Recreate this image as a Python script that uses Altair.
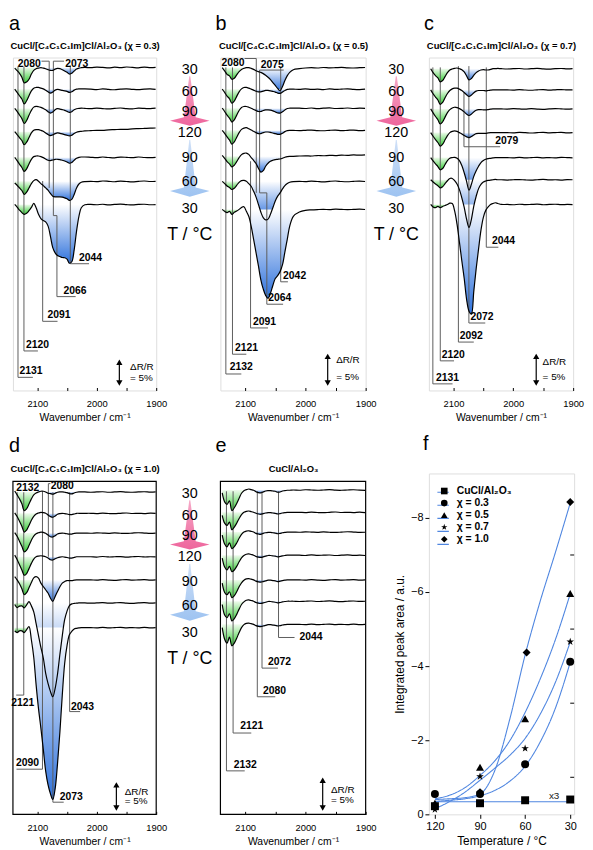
import altair as alt
import pandas as pd

FONT = "Liberation Sans"
H_IR = 337
H_F = 345

# ---------------- IR spectra: common wavenumber grid (cm-1) ----------------
WN = [2138, 2134, 2130, 2126, 2122, 2118, 2114, 2110, 2106, 2102, 2098, 2094, 2090, 2086,
      2082, 2078, 2074, 2070, 2066, 2062, 2058, 2054, 2050, 2046, 2042, 2038, 2034, 2030,
      2026, 2020, 2010, 2000, 1990, 1980, 1970, 1960, 1950, 1940, 1930, 1920, 1910, 1901]

# stacking offsets (a.u., downward) and signal dips (positive = dip) per trace, top to bottom
A_BASE = [10, 32, 51.5, 75, 101, 125.3, 148.7]
A_DEV = [
    [0.7, 3.3, 6, 10, 15.7, 14.7, 12, 6.7, 3, 1.3, 0.7, 0.3, 0.7, 1.3, 2.3, 3, 3, 1.7, 1, 1.3, 2.3, 3.7, 5, 6.7, 6, 3.7, 1.7, 0.7, 0.3, 0, 0.3, -0.3, 0, 0.5, -0.2, 0.3, -0.4, 0, 0.4, -0.3, 0.2, 0],
    [0, 3.3, 6.7, 10, 15, 11.7, 6.7, 1.7, -1, -1.7, -1.7, -1, -0.3, 1, 2.7, 4, 3, 1, 0.3, 0.7, 1.3, 1.7, 2.3, 3.3, 2.7, 1, 0, -0.3, -0.3, -0.3, 0, 0.4, -0.2, 0.3, 0.6, 0, -0.3, 0.2, 0.5, 0, -0.2, 0.3],
    [0, 3, 6.7, 10.3, 15.3, 12.3, 7, 2, -1.3, -2, -1.7, -1, 0, 1.3, 3.3, 4.7, 3.7, 1.3, 0.3, 0.7, 1.3, 2, 3, 4, 3.3, 1.3, 0.3, 0, -0.3, 0, 0.3, -0.2, 0.2, 0.5, 0, -0.4, 0.2, 0.4, -0.2, 0, 0.3, -0.2],
    [0, 3, 6, 9, 13.3, 10.7, 6, 1.3, -1.3, -2, -2, -1.3, -0.3, 1.3, 3, 4, 3.3, 2, 1.3, 1.7, 2.3, 3, 3.7, 4.3, 3.7, 2, 0.7, 0, -0.3, -0.7, -1, -1.3, -1.2, -1.8, -2, -2.3, -2.2, -2.8, -3, -3.2, -3.5, -3.7],
    [0, 3.3, 7, 10.3, 14.3, 11.7, 6.7, 2, -0.7, -1.3, -1.3, -0.7, 0.3, 1.7, 3, 3.3, 2.7, 2, 2, 2.3, 3, 3.7, 4.7, 6, 5.3, 3, 1, 0, -0.3, -0.3, 0, 0.3, -0.3, 0.2, 0.5, -0.2, 0, 0.4, -0.3, 0.2, 0.4, 0],
    [1.7, 4, 6.7, 9.3, 13.3, 11, 6.7, 2.3, -0.7, -1.7, 0, 2.3, 4.3, 6.7, 9, 12.3, 15, 15.7, 15.7, 15.7, 16, 16.7, 17.7, 19.3, 18.3, 13.3, 6.7, 2.7, 1, 0.3, 0, 0.3, -0.3, 0, 0.4, -0.2, 0.2, 0.5, 0, -0.3, 0.2, 0],
    [0, 2.7, 5.7, 8.3, 10, 9, 6.3, 3, -1, 3.3, 10, 14.3, 16.3, 17.7, 21.7, 32, 43.7, 49, 51.7, 52.7, 53.7, 54, 55.3, 59.5, 58, 46, 27, 12, 3.3, 0.3, 0, 0.3, -0.2, 0.4, 0, -0.3, 0.2, 0.5, 0, -0.2, 0.3, 0.1],
]
B_BASE = [10.3, 32, 51.3, 73.7, 100, 125.3, 153.7]
B_DEV = [
    [0, 3.3, 6.7, 8.3, 11.7, 10.7, 7.3, 4, 1.7, 0.7, 0, 0, 0.7, 1.7, 3, 4, 4.7, 6, 7.7, 9.7, 12, 15, 18, 21, 23.3, 19, 13, 8, 4.7, 2, 1, 0.3, 0, 0.3, -0.2, 0.2, 0, -0.3, 0.2, 0.3, 0, -0.2],
    [0, 3.3, 7, 9.7, 14.3, 12, 7.3, 2.7, -0.3, -1.7, -1.7, -1, 0, 1, 2, 2.7, 2.7, 2, 1.3, 1.3, 1.7, 2.3, 3, 4, 4.3, 3, 1.3, 0.3, 0, 0, 0.2, -0.3, 0.3, 0, 0.4, -0.2, 0.3, 0, -0.3, 0.2, 0.4, 0],
    [0, 3.3, 7, 10, 14, 11.7, 7, 2.3, -0.7, -1.7, -1.7, -1, 0, 1.3, 2.3, 3.3, 3.3, 2.3, 1.7, 1.7, 2, 2.7, 3.7, 4.7, 5, 3.7, 1.7, 0.3, 0, 0, 0, 0.3, -0.2, 0.4, 0, -0.3, 0.3, 0.2, -0.2, 0.3, 0, 0.2],
    [0, 3, 6.7, 9.7, 14, 11.7, 7, 2.3, -1, -2.3, -2.7, -1.7, -0.3, 1, 2.3, 3.3, 3.3, 2.3, 1.7, 1.7, 2, 2.7, 3.3, 4, 4, 3, 1.3, 0.3, 0, 0, 0.3, 0, -0.3, 0.2, 0.4, 0, -0.2, 0.3, 0, -0.3, 0.2, 0],
    [-1, 2, 5.3, 7.7, 10.7, 9, 5.3, 1.3, -1.7, -3, -3.3, -2, 1.3, 4, 7.3, 12, 16, 14.5, 10, 7, 5, 4, 3.3, 3, 2.7, 2, 1, 0.3, 0, 0, -0.3, -0.5, -0.3, -0.8, -0.6, -1, -0.8, -1.2, -1, -1.4, -1.2, -1.5],
    [0, 2.3, 4.7, 6.3, 8.3, 7, 4, 1, -0.7, -1, 0, 2.3, 5, 10, 15.7, 23.3, 31, 36.7, 39, 38.3, 33.3, 26.7, 20, 15, 11.7, 7.7, 4.3, 2.3, 1, 0.3, 0, 0.3, -0.2, 0.2, 0.5, 0, -0.3, 0.2, 0.4, 0, -0.2, 0.2],
    [0, 2, 3.3, 2, 5, 3, 1.7, 0, -2, -2.7, 2, 7, 17, 30, 43.5, 57, 71, 80.5, 87, 90, 85, 77, 70, 67, 63, 56, 43, 30, 17, 7, 2.7, 1, 0.5, 0.2, 0, 0.3, -0.2, 0, 0.3, 0, -0.2, 0.1],
]
C_BASE = [11.3, 32.7, 52, 76, 101.3, 123.7, 148.7]
C_DEV = [
    [0, 4, 7, 9.3, 13.3, 12, 8, 4, 1.3, 0.3, -0.3, -0.7, 0, 1, 3.3, 7.3, 11.3, 10, 6.7, 4, 2.3, 1.3, 1, 1.3, 1.3, 0.7, 0, 0, -0.3, 0, 0.3, 0, -0.2, 0.3, 0, -0.3, 0.2, 0.4, 0, -0.2, 0.2, 0],
    [0, 4, 7.3, 10.3, 14.7, 12.7, 8, 3.7, 0.7, -1, -1.7, -1.7, -0.7, 0.7, 2.7, 5, 6.7, 5.3, 3, 1.3, 0.7, 0.7, 0.7, 1, 0.7, 0.3, 0, 0, 0, 0, 0, 0.3, -0.3, 0.2, 0.4, 0, -0.2, 0.3, 0, -0.3, 0.1, 0],
    [0, 4, 7.7, 11, 15.3, 13, 8.3, 3.7, 0.7, -1, -1.7, -1.3, -0.3, 1, 3, 5.3, 6.7, 5.3, 3, 1.3, 0.7, 0.7, 1, 1, 0.7, 0.3, 0, 0, 0, 0, 0.2, -0.2, 0, 0.3, -0.2, 0.2, 0.4, 0, -0.3, 0, 0.3, 0],
    [0, 3.7, 7, 10, 13.7, 11.7, 7.3, 3, 0, -1.3, -1.7, -1.3, 0, 1.3, 3, 4.3, 5, 4, 2.3, 1, 0.7, 0.7, 0.7, 0.7, 0.3, 0, 0, 0, 0, 0, 0, 0.3, -0.2, 0, 0.4, 0, -0.3, 0.2, 0, -0.2, 0.3, 0],
    [0, 3.3, 6.3, 9, 12.3, 11, 7, 3, 0.7, 0, -0.3, 0.7, 3, 8, 15.3, 24, 33, 27, 19, 13.3, 8.7, 5, 3, 1.7, 1, 0.7, 0.3, 0, 0, 0, 0, 0.3, -0.2, 0.3, 0, -0.3, 0.2, 0, 0.3, -0.2, 0, 0.2],
    [0, 2.3, 4.3, 6, 8.3, 7, 4, 1, -1.3, -1.3, 1, 4.3, 10, 18.3, 28, 40, 48.3, 40, 26.7, 16.7, 9, 4.7, 2.3, 1.3, 0.7, 0.3, 0, -0.3, 0, 0, 0.3, 0, -0.2, 0.2, 0.4, 0, -0.3, 0.2, 0, 0.3, -0.2, 0],
    [0, 2.5, 3.3, 2, 3.3, 2, 1, 0, -1.3, -1, 6.5, 20, 38, 57, 75, 96, 108, 111, 88, 65, 45, 26, 13, 6, 2.5, 0, -1, -1.7, -1, 0, 0, 0.3, -0.2, 0.2, 0, -0.3, 0.3, 0, -0.2, 0.2, 0, 0.1],
]
D_BASE = [10.7, 32.3, 52.3, 76.3, 99.7, 123, 148]
D_DEV = [
    [-1, 3, 7, 12, 19, 17, 12.3, 7, 3, 1, 0, -0.7, -0.7, 0, 1.3, 1.7, 2.3, 1.3, 0.3, 0, 0, 0.3, 0.7, 1.7, 2, 1, 0.3, 0, 0, 0, 0.3, 0, -0.2, 0.3, 0, -0.3, 0.2, 0.3, 0, -0.2, 0.2, 0],
    [-0.5, 3.3, 8, 13, 19, 17, 12.3, 7, 3, 0.7, -0.3, -1, -0.7, 0, 1.7, 3.3, 4, 2.7, 1, 0.3, 0, 0.3, 0.7, 1.3, 1.3, 0.7, 0, 0, 0, 0, 0, 0.3, -0.2, 0.2, 0.4, 0, -0.3, 0.2, 0, 0.3, -0.2, 0],
    [-0.5, 3.3, 8.3, 13.3, 19, 17.3, 12.7, 7.3, 3, 0.7, -0.3, -1, -0.7, 0.3, 2, 3.7, 4, 2.7, 1, 0.3, 0, 0.3, 0.7, 1, 1, 0.3, 0, 0, 0, 0, 0.2, -0.2, 0, 0.3, -0.2, 0.2, 0.4, 0, -0.3, 0, 0.3, 0],
    [-1.7, 2.7, 8, 13.3, 18.7, 17, 12, 6.7, 2.3, 0, -0.7, -1, -0.7, 0, 1.3, 3, 3.3, 2, 1, 0.3, 0, 0.3, 0.7, 1.3, 1.3, 0.7, 0, 0, 0, 0, 0, 0.3, -0.3, 0.2, 0, -0.2, 0.3, 0, -0.3, 0.2, 0, 0.2],
    [-3.3, 0, 4, 9, 15, 13, 8, 2.7, -2, -3.3, -1.7, 3.3, 6.7, 10, 13.3, 18.3, 21.7, 16.7, 11.7, 7, 3.3, 1.7, 0.7, 0.7, 0.7, 0.3, 0, 0, 0, 0, 0, 0.3, -0.2, 0.2, 0.4, 0, -0.3, 0.3, 0, -0.2, 0.2, 0],
    [1.7, 4.7, 3.3, 3, 5, 2, -1.3, 3, 9, 21, 33, 45, 55.5, 71, 81.5, 89.5, 95, 86.5, 72, 52, 33.3, 17, 8.3, 2.7, 1, 0.5, 0.3, 0, 0, 0, 0.3, 0, -0.2, 0.3, 0, -0.3, 0.2, 0.4, 0, -0.2, 0.2, 0],
    [3.3, 5, 3.3, 3.3, 5, 2, -1, 12.3, 30, 58, 82, 101.7, 122.7, 145, 159, 168, 174, 163, 137.7, 105.7, 68.3, 36.3, 18.3, 7.3, 3.8, 1.3, 0.7, 0.3, 0, 0, 0, 0.3, -0.2, 0.3, 0, -0.3, 0.2, 0, 0.3, -0.2, 0.2, 0],
]
E_BASE = [8.7, 31.3, 51.3, 74.7, 99.7, 121.3, 144.7]
E_DEV = [
    [3, 12, 14.5, 11, 21, 18, 13.7, 8.3, 3.3, 0.7, -0.3, -1, -0.3, 0.3, 1.7, 2.7, 3, 2, 1, 0.7, 0.7, 1, 1.3, 2.3, 2, 1, 0.7, 0.3, 0.3, 0, 0.3, -0.2, 0, 0.3, 0, -0.3, 0.2, 0.3, 0, -0.2, 0.2, 0.4],
    [3, 11, 13.3, 10, 17.7, 15, 11, 6.3, 2.3, 0, -1, -1.3, -0.7, 0, 1, 1.7, 2, 1.3, 0.7, 0.3, 0.3, 0.7, 1, 1.7, 1.3, 0.7, 0.3, 0, 0, 0, 0, 0.3, -0.2, 0.2, 0.4, 0, -0.3, 0.2, 0, 0.3, -0.2, 0.3],
    [3, 12, 15, 11, 16.7, 14.7, 11, 6.3, 2.3, 0, -1, -1.3, -0.7, 0, 1.3, 2, 2.3, 1.3, 0.7, 0.3, 0.3, 0.7, 1, 1.7, 1.3, 0.7, 0.3, 0, 0, 0, 0.2, -0.2, 0, 0.3, -0.2, 0.2, 0.4, 0, -0.3, 0, 0.3, 0.2],
    [3, 12, 15, 11.3, 16.7, 15, 11.3, 6.7, 2.7, 0.3, -1, -1.3, -0.7, 0, 1.3, 2, 2.3, 1.7, 1, 0.3, 0.3, 0.7, 1, 1.7, 1.3, 0.7, 0.3, 0, 0, 0, 0, 0.3, -0.3, 0.2, 0, -0.2, 0.3, 0, -0.3, 0.2, 0, 0.3],
    [3.3, 12.7, 15, 12, 18, 16, 12, 7, 3, 0.3, -1, -1.3, -0.7, 0, 1.3, 2, 2.3, 1.7, 1, 0.3, 0.3, 0.7, 1, 1.7, 1.3, 0.7, 0.3, 0, 0, 0, 0, 0.3, -0.2, 0.2, 0.4, 0, -0.3, 0.3, 0, -0.2, 0.2, 0],
    [3.3, 14, 16.7, 12.7, 20, 17.7, 13.3, 8, 3.3, 0.7, -1, -1.3, -0.7, 0, 1.3, 2, 2.3, 1.7, 1, 0.3, 0.3, 0.7, 1, 1.7, 1.3, 0.7, 0.3, 0, 0, 0, 0.3, 0, -0.2, 0.3, 0, -0.3, 0.2, 0.4, 0, -0.2, 0.2, 0],
    [3.3, 15, 19, 13, 21.7, 19, 14, 8.3, 3.3, 0.3, -1, -1.3, -0.7, 0, 1.3, 2, 2.3, 1.7, 1, 0.3, 0.3, 0.7, 1, 1.7, 1.3, 0.7, 0.3, 0, 0, 0, 0, 0.3, -0.2, 0.3, 0, -0.3, 0.2, 0, 0.3, -0.2, 0.2, 0],
]

# peak-label leader lines: (wavenumber, depth below frame top) points
A_LINES = [
    [(2132.5, 9), (2132.5, 323.7), (2107.5, 323.7)],
    [(2122.5, 9), (2122.5, 297), (2099, 297)],
    [(2091, 125), (2091, 267), (2066, 267)],
    [(2055, 3.7), (2073, 3.7), (2073, 160), (2067, 160), (2067, 242), (2035.5, 242)],
    [(2093, 3.7), (2080, 3.7), (2080, 132)],
    [(2044.5, 8), (2044.5, 208.7), (2013, 208.7)],
]
A_TEXT = [("2131", 2130, 320.5, "left", "alphabetic"), ("2120", 2119, 293.5, "left", "alphabetic"),
          ("2091", 2083, 263.7, "left", "alphabetic"), ("2066", 2056, 239, "left", "alphabetic"),
          ("2044", 2030, 206, "left", "alphabetic"), ("2080", 2094, 6.5, "right", "middle"),
          ("2073", 2053, 6.5, "left", "middle")]
B_LINES = [
    [(2132, 10), (2132, 320.3), (2106.3, 320.3)],
    [(2121, 10), (2121, 300.3), (2098, 300.3)],
    [(2091, 105), (2091, 273.7), (2062, 273.7)],
    [(2101, 1), (2081.5, 1), (2081.5, 137)],
    [(2036, 12.7), (2076, 12.7), (2076, 137), (2064, 137), (2064, 249.7), (2037, 249.7)],
    [(2041, 10), (2041, 227), (2029, 227)],
]
B_TEXT = [("2132", 2125.5, 316.5, "left", "alphabetic"), ("2121", 2117, 297, "left", "alphabetic"),
          ("2091", 2087, 270.5, "left", "alphabetic"), ("2064", 2061.5, 246.5, "left", "alphabetic"),
          ("2042", 2037, 224, "left", "alphabetic"), ("2080", 2101, 5.5, "right", "middle"),
          ("2075", 2074, 10.5, "left", "alphabetic")]
C_LINES = [
    [(2134.4, 10), (2134.4, 330.3), (2101.5, 330.3)],
    [(2122, 10), (2122, 307), (2099, 307)],
    [(2091.7, 8.7), (2091.7, 288), (2066, 288)],
    [(2082.4, 35), (2082.4, 90.3), (2022, 90.3)],
    [(2074.2, 8.7), (2074.2, 268.7), (2046.8, 268.7)],
    [(2045.1, 10), (2045.1, 192), (2024.9, 192)],
]
C_TEXT = [("2131", 2129, 327, "left", "alphabetic"), ("2120", 2119.5, 303.7, "left", "alphabetic"),
          ("2092", 2089.5, 284.5, "left", "alphabetic"), ("2079", 2030, 88, "left", "alphabetic"),
          ("2072", 2071.4, 265.5, "left", "alphabetic"), ("2044", 2035.7, 189, "left", "alphabetic")]
D_LINES = [
    [(2133.9, 11), (2133.9, 153)],
    [(2122.8, 11), (2122.8, 216.3), (2135.5, 216.3)],
    [(2091.3, 10), (2091.3, 291.3), (2135, 291.3)],
    [(2078, 2.3), (2081.4, 2.3), (2081.4, 76.3)],
    [(2073.8, 11), (2073.8, 324.7), (2055.6, 324.7)],
    [(2045.6, 11), (2045.6, 233), (2028, 233)],
]
D_TEXT = [("2132", 2135.5, 6.3, "left", "middle"), ("2121", 2143.8, 227, "left", "alphabetic"),
          ("2090", 2097, 288.5, "right", "alphabetic"), ("2080", 2077.5, 5, "left", "middle"),
          ("2073", 2062.2, 322.5, "left", "alphabetic"), ("2043", 2043.3, 231, "left", "alphabetic")]
E_LINES = [
    [(2131, 10), (2131, 293), (2100.7, 293)],
    [(2120, 10), (2120, 254.7), (2089.8, 254.7)],
    [(2079.8, 10), (2079.8, 218), (2050, 218)],
    [(2072, 10), (2072, 189), (2045.6, 189)],
    [(2044.6, 10), (2044.6, 158), (2018, 158)],
]
E_TEXT = [("2132", 2118.9, 290, "left", "alphabetic"), ("2121", 2108, 251, "left", "alphabetic"),
          ("2080", 2070.4, 215, "left", "alphabetic"), ("2072", 2062, 186, "left", "alphabetic"),
          ("2044", 2009.8, 157.5, "left", "middle")]

# scale bars (ΔR/R = 5 %)
A_BAR = dict(wn=1962, top=306, bot=332, twn=1944, t1=316, t2=327)
B_BAR = dict(wn=1963, top=300, bot=332, twn=1949, t1=309, t2=326)
C_BAR = dict(wn=1961.7, top=300, bot=332, twn=1951, t1=311, t2=326)
D_BAR = dict(wn=1967, top=304.7, bot=333, twn=1953, t1=317, t2=327)
E_BAR = dict(wn=1971.3, top=300, bot=333, twn=1957.5, t1=315, t2=326)

# temperature legends
LEG_LAB = ["30", "60", "90", "120", "90", "60", "30"]
LEG_Y = [12.5, 35, 55, 76.5, 102, 126.5, 153.3]
LEG_T_Y = 179.5
PINK_ARROW = [(19, 0.5), (60.5, 6), (64, 20), (69, 0)]
BLUE_ARROW = [(83.5, 0.5), (131.5, 6), (135, 20), (141, 0)]

# panel f data
F_SER = ["CuCl/Al₂O₃", "χ = 0.3", "χ = 0.5", "χ = 0.7", "χ = 1.0"]
F_T = {
    "CuCl/Al₂O₃": [120, 90, 60, 30],
    "χ = 0.3": [120, 90, 60, 30],
    "χ = 0.5": [120, 90, 60, 30],
    "χ = 0.7": [120, 90, 60, 30],
    "χ = 1.0": [120, 90, 59, 30],
}
F_V = {
    "CuCl/Al₂O₃": [-0.22, -0.3, -0.38, -0.4],
    "χ = 0.3": [-0.55, -0.55, -1.35, -4.12],
    "χ = 0.5": [-0.3, -1.27, -2.58, -5.96],
    "χ = 0.7": [-0.13, -1.02, -1.78, -4.66],
    "χ = 1.0": [-0.22, -0.6, -4.37, -8.43],
}
FIT_T = {
    "CuCl/Al₂O₃": [120, 30],
    "χ = 0.3": [120, 110, 100, 90, 80, 70, 60, 50, 40, 30],
    "χ = 0.5": [120, 110, 100, 90, 80, 70, 60, 50, 40, 30],
    "χ = 0.7": [120, 110, 100, 90, 80, 70, 60, 50, 40, 30],
    "χ = 1.0": [120, 110, 100, 90, 80, 70, 60, 50, 40, 30],
}
FIT_V = {
    "CuCl/Al₂O₃": [-0.34, -0.34],
    "χ = 0.3": [-0.35, -0.38, -0.42, -0.5, -0.65, -0.9, -1.3, -1.95, -2.85, -4.1],
    "χ = 0.5": [-0.42, -0.52, -0.72, -1.05, -1.45, -2.0, -2.75, -3.65, -4.7, -5.95],
    "χ = 0.7": [-0.15, -0.35, -0.6, -0.92, -1.25, -1.6, -2.05, -2.7, -3.55, -4.65],
    "χ = 1.0": [-0.4, -0.42, -0.45, -0.55, -1.2, -2.6, -4.3, -5.75, -7.05, -8.4],
}
F_RTICKS = [-1, -3, -5, -7]
STAR = ("M0,-1L0.2245,-0.309L0.951,-0.309L0.3633,0.118L0.5878,0.809L0,0.382L-0.5878,0.809"
        "L-0.3633,0.118L-0.951,-0.309L-0.2245,-0.309Z")
F_SHAPES = ["square", "circle", "triangle-up", STAR, "diamond"]
BLUE_LINE = "#4f86e0"

# layout (pixels)
COLS = [145, 45, 147, 44, 147]
GAP = 10
ROW_GAP = 84
F_X0 = sum(COLS[:4]) + 4 * GAP
F_Y0 = H_IR + ROW_GAP


def grad(c0, c1):
    return alt.Gradient(gradient="linear",
                        stops=[alt.GradientStop(color=c0, offset=0), alt.GradientStop(color=c1, offset=1)],
                        x1=0, x2=0, y1=0, y2=1)


GREEN = grad("#f0fbee", "#33cc33")
BLUEG = grad("#ffffff", "#2f72dc")


def ir_panel(letter, title, width, base, devs, lines, texts, bar, blue_end=2020,
             letter_offset=-9.5, letter_dx=-4, pad_top=0):
    xs = alt.Scale(domain=[2141, 1900], nice=False, zero=False)
    ys = alt.Scale(domain=[-H_IR, pad_top], nice=False, zero=False)
    tr, fg, fb = [], [], []
    cand = [i for i, w in enumerate(WN) if 2094 <= w <= 2118]
    for t, (b, dev) in enumerate(zip(base, devs)):
        assert len(dev) == len(WN), (letter, t, len(dev))
        split = min(cand, key=lambda i: dev[i])
        for i, (w, d) in enumerate(zip(WN, dev)):
            tr.append({"trace": t, "wn": w, "y": -(b + d)})
            rec = {"trace": t, "wn": w, "y": -(b + max(d, 0.0)), "y0": -b}
            if i <= split:
                fg.append(dict(rec))
            if i >= split and w >= blue_end:
                fb.append(dict(rec))
    X0 = alt.X("wn:Q", scale=xs, axis=None)
    Y0 = alt.Y("y:Q", scale=ys, axis=None)
    green = alt.Chart(pd.DataFrame(fg)).mark_area(interpolate="catmull-rom", color=GREEN).encode(
        x=X0, y=Y0, y2=alt.Y2("y0"), detail="trace:N")
    blue = alt.Chart(pd.DataFrame(fb)).mark_area(interpolate="catmull-rom", color=BLUEG).encode(
        x=X0, y=Y0, y2=alt.Y2("y0"), detail="trace:N")
    lrows = []
    for s, pts in enumerate(lines):
        for k, (w, r) in enumerate(pts):
            lrows.append({"seg": s, "ord": k, "wn": w, "y": -r})
    lead = alt.Chart(pd.DataFrame(lrows)).mark_line(color="#5c5c5c", strokeWidth=1).encode(
        x=X0, y=Y0, detail="seg:N", order="ord:Q")
    bottom_axis = alt.Axis(orient="bottom", values=[2100, 2050, 2000, 1950, 1900],
                           labelExpr="datum.value % 100 == 0 ? datum.label : ''", format="d",
                           tickSize=3, offset=-3, domain=False, grid=False, labelFlush=False,
                           labelOverlap=False, labelFont=FONT, labelFontSize=9.5, labelPadding=8,
                           labelColor="black", tickColor="black", title="Wavenumber / cm⁻¹",
                           titleFont=FONT, titleFontSize=10.5, titleFontWeight="normal",
                           titlePadding=5, titleColor="black")
    trace = alt.Chart(pd.DataFrame(tr)).mark_line(color="black", strokeWidth=1.2, interpolate="catmull-rom").encode(
        x=alt.X("wn:Q", scale=xs, axis=bottom_axis), y=Y0, detail="trace:N")
    tdf = pd.DataFrame([{"t": t, "wn": w, "y": -r, "al": al, "bl": bl} for (t, w, r, al, bl) in texts])
    tlayers = []
    for (al, bl), g in tdf.groupby(["al", "bl"]):
        tlayers.append(alt.Chart(g).mark_text(align=al, baseline=bl, font=FONT, fontSize=10.5,
                                              fontWeight="bold", color="black").encode(x=X0, y=Y0, text="t:N"))
    sdf = pd.DataFrame([{"wn": bar["wn"], "y": -(bar["top"] + 3), "y2": -(bar["bot"] - 3)}])
    shaft = alt.Chart(sdf).mark_rule(color="black", strokeWidth=1.2).encode(x=X0, y=Y0, y2=alt.Y2("y2"))
    hu = alt.Chart(pd.DataFrame([{"wn": bar["wn"], "y": -(bar["top"] + 2.5)}])).mark_point(
        shape="triangle-up", filled=True, color="black", size=40, opacity=1).encode(x=X0, y=Y0)
    hd = alt.Chart(pd.DataFrame([{"wn": bar["wn"], "y": -(bar["bot"] - 2.5)}])).mark_point(
        shape="triangle-down", filled=True, color="black", size=40, opacity=1).encode(x=X0, y=Y0)
    top_axis = alt.Axis(orient="top", title=title, labels=False, ticks=False, domain=False, grid=False,
                        titleFont=FONT, titleFontSize=9.5, titleFontWeight="bold",
                        titlePadding=9.5 - pad_top, titleBaseline="alphabetic", titleColor="black")
    bt = pd.DataFrame([{"t": "ΔR/R", "wn": bar["twn"], "y": -bar["t1"]},
                       {"t": "= 5%", "wn": bar["twn"], "y": -bar["t2"]}])
    btext = alt.Chart(bt).mark_text(align="left", baseline="alphabetic", font=FONT, fontSize=10,
                                    color="black").encode(x=alt.X("wn:Q", scale=xs, axis=top_axis), y=Y0, text="t:N")
    layers = [green, blue, lead, trace, *tlayers, shaft, hu, hd, btext]
    props = dict(width=width, height=H_IR + pad_top,
                 title=alt.TitleParams(letter, anchor="start", frame="group", dx=letter_dx, fontSize=20,
                                       fontWeight="normal", font=FONT, offset=letter_offset,
                                       baseline="alphabetic", color="black"))
    if pad_top:
        frame = alt.Chart(pd.DataFrame([{"x1": 2141, "x2": 1900, "y1": -H_IR, "y2": 0}])).mark_rect(
            fillOpacity=0, stroke="black", strokeWidth=1.2).encode(
            x=alt.X("x1:Q", scale=xs, axis=None), x2=alt.X2("x2"),
            y=alt.Y("y1:Q", scale=ys, axis=None), y2=alt.Y2("y2"))
        layers.append(frame)
        props["view"] = alt.ViewBackground(strokeWidth=0)
    return alt.layer(*layers).properties(**props)


def temp_legend(xdom, width, pad_top=0):
    xs = alt.Scale(domain=xdom, nice=False, zero=False)
    ys = alt.Scale(domain=[-H_IR, pad_top], nice=False, zero=False)

    def arrow(pts, g):
        df = pd.DataFrame([{"y": -r, "xl": -hw, "xr": hw} for r, hw in pts])
        return alt.Chart(df).mark_area(orient="horizontal", color=g).encode(
            y=alt.Y("y:Q", scale=ys, axis=None), x=alt.X("xl:Q", scale=xs, axis=None), x2=alt.X2("xr"))
    pink = arrow(PINK_ARROW, grad("#f6a9c7", "#ee659c"))
    blu = arrow(BLUE_ARROW, grad("#cfe0f7", "#9ec3f1"))
    nums = pd.DataFrame({"t": LEG_LAB, "x": [0] * len(LEG_LAB), "y": [-v for v in LEG_Y]})
    ntext = alt.Chart(nums).mark_text(fontSize=14.5, font=FONT, baseline="middle", align="center",
                                      color="black").encode(
        x=alt.X("x:Q", scale=xs, axis=None), y=alt.Y("y:Q", scale=ys, axis=None), text="t:N")
    tt = alt.Chart(pd.DataFrame({"t": ["T / °C"], "x": [0], "y": [-LEG_T_Y]})).mark_text(
        fontSize=18, font=FONT, baseline="middle", align="center", color="black").encode(
        x=alt.X("x:Q", scale=xs, axis=None), y=alt.Y("y:Q", scale=ys, axis=None), text="t:N")
    return alt.layer(pink, blu, ntext, tt).properties(width=width, height=H_IR + pad_top,
                                                      view=alt.ViewBackground(strokeWidth=0))


def spacer(w, h):
    return alt.Chart(pd.DataFrame({"v": [0]})).mark_point(opacity=0).encode(
        x=alt.X("v:Q", axis=None), y=alt.Y("v:Q", axis=None)).properties(
        width=w, height=h, view=alt.ViewBackground(strokeWidth=0))


def f_panel():
    xs = alt.Scale(domain=[124, 27.4], nice=False, zero=False)
    ys = alt.Scale(domain=[0, -9.2], nice=False, zero=False)
    prow = []
    for s in F_SER:
        for t, v in zip(F_T[s], F_V[s]):
            prow.append({"ser": s, "T": t, "v": v})
    frow = []
    for s in F_SER:
        for t, v in zip(FIT_T[s], FIT_V[s]):
            frow.append({"lser": "fit " + s, "T": t, "v": v})
    pdf = pd.DataFrame(prow)
    fdf = pd.DataFrame(frow)
    xaxis = alt.Axis(orient="bottom", values=[120, 90, 60, 30], title="Temperature / °C",
                     labelFont=FONT, labelFontSize=11, titleFont=FONT, titleFontSize=12,
                     titleFontWeight="normal", tickSize=4, labelPadding=2, titlePadding=5,
                     domain=False, grid=False, labelFlush=False, tickColor="black",
                     labelColor="black", titleColor="black")
    yaxis = alt.Axis(orient="left", values=[0, -2, -4, -6, -8], title="Integrated peak area / a.u.",
                     labelFont=FONT, labelFontSize=11, titleFont=FONT, titleFontSize=12,
                     titleFontWeight="normal", tickSize=4, labelPadding=2, titlePadding=4,
                     domain=False, grid=False, labelFlush=False, tickColor="black",
                     labelColor="black", titleColor="black")
    # every layer carries the same axis definitions so that the shared axes merge cleanly
    XT = alt.X("T:Q", scale=xs, axis=xaxis)
    YV = alt.Y("v:Q", scale=ys, axis=yaxis)
    # small inward ticks on the right frame edge
    rdf = pd.DataFrame({"v": F_RTICKS, "T": [27.4] * 4, "t2": [30.0] * 4})
    rt = alt.Chart(rdf).mark_rule(color="black", strokeWidth=1).encode(x=XT, x2=alt.X2("t2"), y=YV)
    lseries = ["fit " + s for s in F_SER]
    # legend of the fitted lines (blue line segments, drawn under the marker legend, no visible labels)
    curves = alt.Chart(fdf).mark_line(color=BLUE_LINE, strokeWidth=1.1, interpolate="monotone").encode(
        x=XT, y=YV,
        strokeDash=alt.StrokeDash("lser:N", scale=alt.Scale(domain=lseries, range=[[1, 0]] * 5),
                                  legend=alt.Legend(title=None, orient="none", legendX=F_X0 + 7.9,
                                                    legendY=F_Y0 + 12.5,
                                                    symbolType="stroke", symbolStrokeColor=BLUE_LINE,
                                                    symbolStrokeWidth=1.1, symbolSize=135,
                                                    labelExpr="' '", labelFont=FONT, labelFontSize=10.5,
                                                    rowPadding=1.2, padding=0, zindex=1)))
    points = alt.Chart(pdf).mark_point(filled=True, color="black", size=65, opacity=1).encode(
        x=XT, y=YV,
        shape=alt.Shape("ser:N", scale=alt.Scale(domain=F_SER, range=F_SHAPES),
                        legend=alt.Legend(title=None, orient="none", legendX=F_X0 + 10.3,
                                          legendY=F_Y0 + 12.5,
                                          symbolSize=45, symbolFillColor="black",
                                          symbolStrokeColor="black", symbolStrokeWidth=0,
                                          labelFont=FONT, labelFontSize=10.5, labelFontWeight="bold",
                                          labelColor="black", labelOffset=7.3, rowPadding=1.2,
                                          padding=0, zindex=2)))
    x3 = alt.Chart(pd.DataFrame({"t": ["x3"], "T": [40.7], "v": [-0.5]})).mark_text(
        fontSize=10, font=FONT, color="#222", baseline="middle", align="center").encode(
        x=XT, y=YV, text="t:N")
    return alt.layer(curves, rt, points, x3).properties(
        width=147, height=H_F,
        title=alt.TitleParams("f", anchor="start", frame="group", dx=-6, fontSize=20,
                              fontWeight="normal", font=FONT, offset=4, baseline="alphabetic",
                              color="black"))


TITLE_X = "CuCl/[C₄C₁C₁Im]Cl/Al₂O₃ (χ = {})"
PAD2 = H_F - H_IR
pa = ir_panel("a", TITLE_X.format("0.3"), COLS[0], A_BASE, A_DEV, A_LINES, A_TEXT, A_BAR)
pb = ir_panel("b", TITLE_X.format("0.5"), COLS[2], B_BASE, B_DEV, B_LINES, B_TEXT, B_BAR, letter_dx=-5)
pc = ir_panel("c", TITLE_X.format("0.7"), 146, C_BASE, C_DEV, C_LINES, C_TEXT, C_BAR, letter_dx=-5)
pd_ = ir_panel("d", TITLE_X.format("1.0"), COLS[0], D_BASE, D_DEV, D_LINES, D_TEXT, D_BAR,
               letter_offset=-7.5, pad_top=PAD2)
pe = ir_panel("e", "CuCl/Al₂O₃", COLS[2], E_BASE, E_DEV, E_LINES, E_TEXT, E_BAR, blue_end=2030,
              letter_offset=-7.5, letter_dx=-5, pad_top=PAD2)
pf = f_panel()

chart = alt.concat(
    pa, temp_legend([-24, 21], COLS[1]), pb, temp_legend([-21, 23], COLS[3]), pc,
    pd_, temp_legend([-24, 21], COLS[1], pad_top=PAD2), pe, spacer(43, H_F), pf,
    columns=5, spacing={"row": ROW_GAP, "column": GAP}, bounds="flush", align="each",
).properties(
    padding={"left": 0, "top": 0, "right": 0, "bottom": 0}
).configure_view(stroke="black", strokeWidth=1.2).configure(font=FONT)

chart.save("out.html", embed_options={"renderer": "svg", "actions": False})
